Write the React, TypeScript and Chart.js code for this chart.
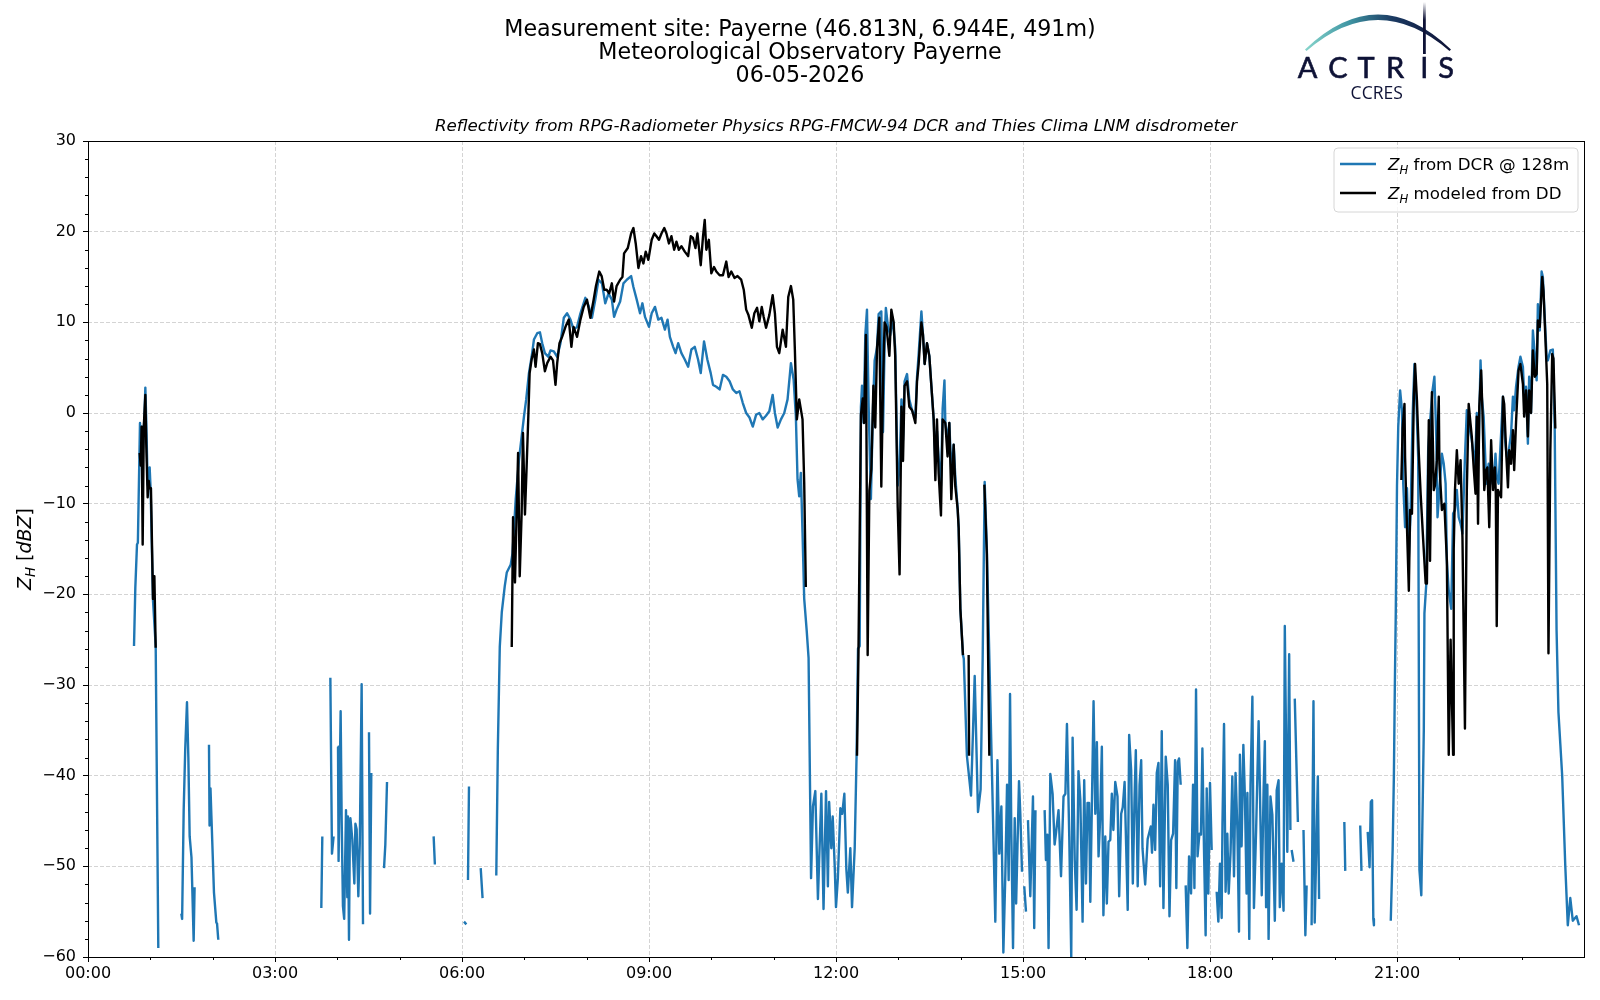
import React, { useEffect, useRef } from 'react';
import { Chart, registerables } from 'chart.js';

Chart.register(...registerables);

// ---------------- text ----------------
const titleLines = [
  'Measurement site: Payerne (46.813N, 6.944E, 491m)',
  'Meteorological Observatory Payerne',
  '06-05-2026',
];
const subtitleText =
  'Reflectivity from RPG-Radiometer Physics RPG-FMCW-94 DCR and Thies Clima LNM disdrometer';
const legendTexts = [' from DCR @ 128m', ' modeled from DD'];
const logoLetters = ['A', 'C', 'T', 'R', 'I', 'S'];
const logoSub = 'CCRES';

// ---------------- ticks ----------------
const xTickHours = [0, 3, 6, 9, 12, 15, 18, 21];
const xMinorHours = [1, 2, 4, 5, 7, 8, 10, 11, 13, 14, 16, 17, 19, 20, 22, 23];
const yTickValues = [-60, -50, -40, -30, -20, -10, 0, 10, 20, 30];
const yMinorValues = [-58, -56, -54, -52, -48, -46, -44, -42, -38, -36, -34, -32, -28, -26, -24, -22,
  -18, -16, -14, -12, -8, -6, -4, -2, 2, 4, 6, 8, 12, 14, 16, 18, 22, 24, 26, 28];

// ---------------- data: [hour of day, Z_H dBZ] (null = gap) ----------------
const dcrPoints: [number, number | null][] = [
  [0.738, -25.7], [0.759, -19.3], [0.786, -14.5], [0.8, -14.3], [0.834, -1.1], [0.85, -5.4], [0.865, -1.5],
  [0.88, -4.0], [0.905, -0.5], [0.92, 2.8], [0.935, -1.0], [0.957, -7.9], [0.975, -6.5], [0.989, -6.0],
  [1.005, -8.5], [1.043, -20.7], [1.086, -25.7], [1.128, -59.0], [1.3, null],
  [1.497, -55.2], [1.51, -55.8], [1.535, -43.8], [1.56, -37], [1.588, -31.9], [1.61, -38], [1.631, -46.7],
  [1.66, -49], [1.695, -58.2], [1.71, -52.3], [1.8, null],
  [1.941, -36.6], [1.95, -45.5], [1.965, -41.4], [1.98, -44.5], [2.021, -52.9], [2.059, -56.2], [2.07, -56.3],
  [2.09, -58.1], [2.2, null],
  [3.743, -54.6], [3.759, -46.7], [3.82, null],
  [3.888, -29.2], [3.914, -48.6], [3.94, -46.7], [3.97, null],
  [4.011, -36.8], [4.02, -49.4], [4.053, -32.9], [4.07, -45], [4.09, -54.4], [4.11, -55.8], [4.139, -43.8],
  [4.16, -53.4], [4.17, -44.5], [4.187, -58.1], [4.2, -47], [4.21, -44.7], [4.24, -47], [4.273, -51.9],
  [4.29, -45.3], [4.31, -45.9], [4.337, -53.3], [4.36, -47.6], [4.39, -29.9], [4.412, -56.4], [4.45, null],
  [4.508, -35.2], [4.525, -55.2], [4.545, -39.7], [4.6, null],
  [4.749, -50.2], [4.77, -47.6], [4.797, -40.7], [4.85, null],
  [5.545, -46.7], [5.565, -49.8], [5.7, null],
  [6.032, -56.1], [6.07, -56.4], [6.085, null],
  [6.096, -51.5], [6.112, -41.2], [6.2, null],
  [6.3, -50.2], [6.33, -53.5], [6.45, null],
  [6.55, -51.0], [6.575, -37], [6.606, -25.8], [6.638, -22], [6.686, -19.1], [6.718, -17.6], [6.782, -16.7],
  [6.81, -15.5], [6.862, -9.5], [6.915, -5.1], [6.995, -0.35], [7.03, 1.5], [7.074, 4.4], [7.117, 6.2],
  [7.154, 8.1], [7.207, 8.8], [7.25, 8.9], [7.287, 7.7], [7.33, 6.6], [7.383, 6.2], [7.42, 6.9], [7.473, 6.8],
  [7.527, 6.2], [7.58, 7.7], [7.633, 10.5], [7.686, 11], [7.74, 10.3], [7.79, 9.2], [7.846, 9.5], [7.9, 11],
  [7.979, 12.7], [8.032, 11.8], [8.085, 10.5], [8.138, 12.5], [8.19, 14.7], [8.245, 14.3], [8.298, 12.1],
  [8.35, 13.2], [8.404, 12.5], [8.44, 10.6], [8.48, 11.4], [8.537, 12.3], [8.59, 14.3], [8.644, 14.7],
  [8.713, 15.1], [8.75, 13.9], [8.803, 12.5], [8.856, 11], [8.894, 12.1], [8.936, 10.6], [9.0, 9.5],
  [9.043, 11], [9.096, 11.7], [9.149, 10.3], [9.2, 10.5], [9.255, 9.2], [9.298, 10.3], [9.335, 8.4],
  [9.388, 7.3], [9.426, 6.6], [9.468, 7.7], [9.52, 6.6], [9.574, 5.9], [9.628, 5.1], [9.68, 7], [9.734, 7.3],
  [9.787, 5.9], [9.83, 4.4], [9.883, 7.9], [9.936, 5.9], [9.99, 4.4], [10.027, 3.1], [10.08, 2.9],
  [10.133, 2.6], [10.186, 4.2], [10.24, 4.0], [10.293, 3.5], [10.346, 2.6], [10.4, 2.2], [10.452, 2.4],
  [10.505, 1.1], [10.559, 0.0], [10.612, -0.5], [10.665, -1.5], [10.718, -0.2], [10.77, 0.0], [10.824, -0.7],
  [10.877, -0.3], [10.93, 0.2], [10.984, 2.0], [11.02, 0], [11.064, -1.6], [11.117, -0.7], [11.17, 0],
  [11.223, 1.5], [11.277, 5.5], [11.32, 3.7], [11.356, -0.35], [11.383, -7.3], [11.41, -9.2], [11.436, -6.6],
  [11.463, -13.2], [11.49, -20.5], [11.53, -24], [11.56, -27], [11.6, -51.3],
  [11.63, -43.4], [11.668, -41.7], [11.71, -53.6], [11.765, -42], [11.8, -54.7], [11.84, -41.7], [11.87, -52.2],
  [11.89, -42.9], [11.925, -48], [11.947, -44.5], [11.979, -49.9], [12.0, -54.5], [12.03, -51.3], [12.07, -43.6],
  [12.1, -44.2], [12.134, -42], [12.166, -50.3], [12.19, -52.9], [12.23, -48], [12.257, -54.5], [12.3, -48],
  [12.33, -37.8], [12.353, -26], [12.38, -25.7], [12.4, 0.7], [12.417, 3], [12.444, -1.1], [12.47, 8.6],
  [12.497, 11.4], [12.524, 0.7], [12.56, -9.5], [12.594, 0.7], [12.62, 5.8], [12.658, 7.2], [12.684, 10.9],
  [12.727, 11.2], [12.754, -2.1], [12.78, 7.7], [12.8, 11.6], [12.834, 9.5], [12.87, 8.6], [12.91, 10.5],
  [12.95, 7.2], [12.99, -8], [13.02, -6], [13.05, 1.5], [13.075, -3], [13.1, 3.5], [13.14, 4.3], [13.176, 1.5],
  [13.22, 0.3], [13.273, -0.5], [13.3, 4], [13.326, 6.5], [13.37, 11.2], [13.396, 8.6], [13.422, 5.4],
  [13.46, 7.7], [13.497, 6.3], [13.53, 3], [13.567, -0.7], [13.594, -5.5], [13.62, -2], [13.647, -5],
  [13.684, -8], [13.711, 0.5], [13.74, 3.6], [13.754, -1.1], [13.79, -3], [13.818, -1.1], [13.85, -6.5],
  [13.888, -3.5], [13.914, -7], [13.952, -10.6], [13.968, -12.7], [13.995, -21.6], [14.037, -26.7],
  [14.05, -27.1], [14.1, -37.8], [14.166, -42.2], [14.225, -29], [14.278, -44], [14.32, -41.5], [14.353, -27.1],
  [14.385, -7.6], [14.42, -15], [14.476, -31.8], [14.52, -45], [14.556, -56.1], [14.59, -38.3], [14.62, -48.6],
  [14.653, -43.4], [14.685, -59.5], [14.717, -50.8], [14.744, -41], [14.77, -51.5], [14.792, -31],
  [14.813, -46.4], [14.84, -59], [14.867, -44.7], [14.89, -54.1], [14.936, -40.6], [14.957, -44.2],
  [14.984, -50.6], [15.0, null],
  [15.02, -52.2], [15.048, -55], [15.06, null],
  [15.08, -44.9], [15.117, -53.3], [15.16, -42.3], [15.18, -56.8], [15.2, -43.8], [15.25, null],
  [15.347, -43.8], [15.368, -49.3], [15.39, -46.5], [15.41, -59], [15.438, -39.8], [15.475, -42], [15.507, -47.6],
  [15.53, -46.3], [15.57, -43.8], [15.61, -51.1], [15.65, -42.3], [15.68, -42], [15.705, -34.3], [15.742, -46.7],
  [15.774, -60], [15.796, -35.8], [15.83, -49.3], [15.86, -54.8], [15.89, -39.5], [15.92, -42.7], [15.956, -56.1],
  [15.982, -40.5], [16.01, -51.9], [16.035, -43], [16.06, -43], [16.08, -53.9], [16.132, -31.8], [16.16, -44.2],
  [16.185, -36.3], [16.212, -48.9], [16.238, -44.7], [16.265, -36.8], [16.29, -55.4], [16.32, -46.7],
  [16.345, -54.1], [16.372, -47.3], [16.4, -47.1], [16.425, -42], [16.45, -46], [16.48, -40.7], [16.516, -42.3],
  [16.543, -53.3], [16.575, -44.2], [16.6, -43.5], [16.63, -40.7], [16.655, -47.8], [16.68, -54.8],
  [16.703, -35.5], [16.735, -39.4], [16.762, -51.9], [16.79, -42.3], [16.81, -37.2], [16.84, -52.2],
  [16.87, -41], [16.896, -38.3], [16.917, -48], [16.96, -52], [17.0, -47], [17.05, -45.6], [17.07, -48.5],
  [17.093, -43.2], [17.12, -48.2], [17.146, -39.7], [17.173, -38.6], [17.2, -52.2], [17.226, -35.1],
  [17.253, -54.6], [17.29, -37.9], [17.322, -41], [17.35, -55.5], [17.376, -47.1], [17.408, -46.4],
  [17.44, -38.3], [17.46, -52.4], [17.483, -38.5], [17.504, -38.1], [17.53, -41], [17.57, null],
  [17.61, -52.1], [17.637, -59], [17.664, -48.9], [17.696, -53], [17.728, -41], [17.75, -52.4], [17.776, -30.5],
  [17.8, -48.9], [17.83, -46.4], [17.855, -46.5], [17.878, -37], [17.904, -48.2], [17.93, -57.6], [17.947, -41.4],
  [17.973, -53], [18.0, -40.8], [18.027, -48.2], [18.06, null],
  [18.107, -52.8], [18.134, -56.1], [18.16, -49.7], [18.187, -55.7], [18.2, -45.3], [18.225, -34.3],
  [18.25, -52.8], [18.278, -46.4], [18.3, -53], [18.33, -48.4], [18.358, -40.1], [18.385, -51.1], [18.41, -39.7],
  [18.44, -46], [18.465, -57.2], [18.48, -37.7], [18.507, -47.8], [18.535, -36.6], [18.56, -42.3], [18.587, -53],
  [18.6, -41.9], [18.63, -58], [18.65, -41], [18.68, -31.3], [18.705, -54.6], [18.74, -46], [18.78, -34],
  [18.8, -41.2], [18.83, -53.2], [18.86, -41.6], [18.88, -36.2], [18.9, -54.5], [18.92, -41], [18.94, -58],
  [18.97, -42.3], [19.0, -44.3], [19.02, -49.9], [19.04, -56], [19.07, -41.6], [19.1, -40.5], [19.12, -54.5],
  [19.15, -49.7], [19.18, -54.9], [19.2, -23.5], [19.24, -48.4], [19.27, -26.6], [19.29, -46], [19.3, null],
  [19.31, -48.2], [19.34, -49.5], [19.35, null],
  [19.36, -31.5], [19.41, -45.1], [19.45, null],
  [19.5, -46], [19.53, -57.6], [19.55, -52.1], [19.6, null],
  [19.63, -56.5], [19.66, -31.8], [19.68, -56.2], [19.73, -40.1], [19.75, -53.6], [19.8, null],
  [20.155, -45.1], [20.17, -50.5], [20.2, null],
  [20.41, -45.5], [20.43, -50.5], [20.48, null],
  [20.53, -46.2], [20.56, -50.1], [20.58, -42.9], [20.6, -42.7], [20.62, -55.8], [20.63, -56.5], [20.7, null],
  [20.9, -56], [20.93, -48.2], [20.95, -40], [20.965, -30.3], [20.98, -22.2], [21.0, -8], [21.02, -1.5],
  [21.05, 2.5], [21.08, 0.3], [21.1, -7.8], [21.13, -12.6], [21.16, -8.3], [21.19, -15.9], [21.22, -10.7],
  [21.25, -0.4], [21.28, 5.4], [21.31, 1.4], [21.34, -4.9], [21.36, -50.4], [21.39, -53.2], [21.43, -35],
  [21.44, -22.1], [21.47, -18.8], [21.5, -4.1], [21.53, -1], [21.57, 2.5], [21.6, 4], [21.63, -2.6],
  [21.65, -11.5], [21.68, -8.5], [21.72, -4.5], [21.75, -5.6], [21.78, -7.8], [21.8, -16.3], [21.83, -19.6],
  [21.87, -21.6], [21.9, -11.1], [21.93, -10.7], [21.96, -8.5], [21.99, -11.5], [22.02, -12.2], [22.05, -13.3],
  [22.09, -4.9], [22.12, 0.3], [22.16, -1.5], [22.2, -3], [22.25, -6], [22.28, 0], [22.31, -4.1], [22.34, 5.8],
  [22.36, 1.8], [22.39, -0.4], [22.42, -5.6], [22.44, -7.8], [22.47, -5.6], [22.5, -7.8], [22.52, -5.6],
  [22.55, -7.8], [22.58, -4.5], [22.6, -7.1], [22.63, -7.8], [22.67, -2.3], [22.7, 1.8], [22.72, -1.9],
  [22.75, -4.1], [22.78, -5.6], [22.8, -3.8], [22.83, -2.3], [22.86, 1.8], [22.88, 0.3], [22.91, 2.9],
  [22.95, 5.1], [22.98, 6.2], [23.02, 5.1], [23.05, 0.3], [23.07, 2.9], [23.1, -3.4], [23.12, 4], [23.15, 0],
  [23.18, 9.1], [23.21, 6.5], [23.24, 3.6], [23.26, 12], [23.29, 9.1], [23.32, 15.6], [23.34, 15],
  [23.37, 10.6], [23.4, 6.2], [23.42, 5.8], [23.46, 6.9], [23.5, 7.0], [23.53, -1.7], [23.56, -24],
  [23.59, -33], [23.62, -36.5], [23.65, -40], [23.7, -50], [23.74, -56.5], [23.78, -53.5], [23.82, -56],
  [23.88, -55.5], [23.92, -56.5],
];

const ddPoints: [number, number | null][] = [
  [0.829, -4.4], [0.845, -5.8], [0.86, -1.5], [0.877, -14.5], [0.895, -1.5], [0.92, 2.0], [0.935, -3.5],
  [0.957, -9.3], [0.975, -7.5], [0.989, -8.3], [1.01, -8.3], [1.043, -20.5], [1.065, -18], [1.086, -25.9],
  [1.2, null],
  [6.798, -25.8], [6.819, -11.5], [6.85, -18.7], [6.9, -4.4], [6.926, -18], [6.957, -11], [6.978, -2.2],
  [7.01, -11.2], [7.037, -5.9], [7.064, -0.35], [7.085, 4.4], [7.117, 5.9], [7.154, 7], [7.18, 5.1],
  [7.218, 7.7], [7.25, 7.6], [7.287, 6.6], [7.33, 4.6], [7.367, 5.5], [7.42, 6.2], [7.46, 5.8], [7.5, 3.1],
  [7.527, 5.5], [7.564, 7.7], [7.606, 8.4], [7.66, 9.5], [7.713, 10.3], [7.755, 7.3], [7.79, 9.5],
  [7.846, 8.4], [7.9, 10.3], [7.952, 11.7], [8.005, 12.5], [8.059, 10.5], [8.112, 12.5], [8.149, 14],
  [8.202, 15.6], [8.24, 15.1], [8.282, 13.6], [8.32, 13.6], [8.362, 13.2], [8.404, 14.3], [8.44, 12.3],
  [8.48, 14], [8.537, 14.7], [8.574, 15], [8.6, 17.6], [8.66, 18.2], [8.713, 19.8], [8.75, 20.4],
  [8.787, 18.7], [8.83, 16], [8.872, 17.3], [8.91, 16.5], [8.947, 17.8], [8.99, 16.9], [9.043, 19.1],
  [9.085, 19.8], [9.12, 19.5], [9.16, 19.1], [9.2, 19.8], [9.245, 20.4], [9.28, 19.8], [9.32, 18.7],
  [9.36, 19.5], [9.404, 18], [9.44, 18.9], [9.479, 18], [9.52, 18.4], [9.574, 17.8], [9.628, 17.3],
  [9.67, 19.5], [9.705, 19.3], [9.745, 18.2], [9.777, 19.8], [9.83, 16.3], [9.867, 19.5], [9.894, 21.3],
  [9.92, 18], [9.96, 19.1], [10.0, 15.4], [10.043, 16.1], [10.08, 15.6], [10.133, 15.2], [10.186, 15.2],
  [10.24, 16.7], [10.277, 15], [10.32, 15.6], [10.372, 14.9], [10.42, 15.1], [10.479, 14.7], [10.52, 13.6],
  [10.559, 11.4], [10.596, 10.8], [10.649, 9.4], [10.69, 11], [10.734, 11.6], [10.77, 10.1], [10.809, 11.7],
  [10.84, 10.6], [10.878, 9.4], [10.93, 10.8], [10.984, 13], [11.02, 11], [11.053, 7.3], [11.09, 6.6],
  [11.144, 9.2], [11.197, 7.3], [11.234, 12.8], [11.277, 14], [11.314, 12.5], [11.34, 7], [11.372, -0.7],
  [11.41, 1.5], [11.463, -0.7], [11.49, -7.7], [11.516, -19.2], [11.7, null],
  [12.337, -37.8], [12.36, -26.7], [12.4, -0.2], [12.43, 1.6], [12.45, -1.1], [12.48, 8.6], [12.508, -26.7],
  [12.535, -8.6], [12.567, -6.2], [12.6, 3.0], [12.63, -1.6], [12.658, 7.2], [12.695, 10.5], [12.727, -8.1],
  [12.754, 3], [12.78, 10], [12.81, 9.5], [12.856, 6.3], [12.888, 11.4], [12.925, 10], [12.95, 6.3],
  [12.99, -10.4], [13.02, -17.8], [13.05, 0.7], [13.075, -5.3], [13.1, 3], [13.14, 3.5], [13.176, 0.7],
  [13.22, 0.3], [13.273, -1.1], [13.3, 3.5], [13.326, 5.4], [13.37, 10], [13.396, 8.6], [13.422, 5.4],
  [13.46, 7.7], [13.497, 6.3], [13.53, 3], [13.567, -0.7], [13.594, -7.4], [13.62, -0.7], [13.647, -6.7],
  [13.684, -11.3], [13.711, -0.7], [13.754, -1.1], [13.79, -4.8], [13.818, -1.1], [13.85, -9.5],
  [13.888, -3.5], [13.914, -8.1], [13.952, -10.6], [13.968, -12.7], [13.995, -21.6], [14.037, -26.7],
  [14.08, null],
  [14.128, -26.7], [14.135, -37.8], [14.2, null],
  [14.38, -7.9], [14.42, -15.5], [14.46, -37.8], [14.6, null],
  [21.07, -7.4], [21.09, -1.7], [21.12, 1], [21.13, -4.9], [21.16, -12.6], [21.19, -19.6], [21.21, -10.7],
  [21.24, -11.1], [21.27, 1.8], [21.29, 5.4], [21.32, 1.4], [21.35, -4.5], [21.38, -9], [21.42, -14],
  [21.46, -18.8], [21.48, -18.8], [21.51, -0.8], [21.53, -16.3], [21.56, 2.3], [21.59, -8.5], [21.61, -8],
  [21.64, -5.2], [21.67, 1.8], [21.68, -5.6], [21.72, -10.7], [21.76, -10], [21.8, -16.3], [21.83, -37.7],
  [21.86, -25], [21.9, -37.7], [21.91, -15], [21.93, -8.5], [21.96, -4.1], [21.99, -7.8], [22.02, -5.2],
  [22.05, -13.7], [22.09, -34.8], [22.12, -8.5], [22.15, 1], [22.18, -1.2], [22.2, -2.6], [22.23, -6],
  [22.26, -8.9], [22.28, -0.4], [22.3, -12.2], [22.32, 0.7], [22.35, 4.7], [22.37, 0.3], [22.4, -8.5],
  [22.43, -6.3], [22.45, -6], [22.48, -12.6], [22.51, -3], [22.54, -8.5], [22.57, -6], [22.585, -8.9],
  [22.6, -23.5], [22.62, -8.5], [22.67, -9.3], [22.7, 1.8], [22.72, 1], [22.75, -4.1], [22.78, -8.2],
  [22.8, -4.1], [22.83, -5.6], [22.86, -1.9], [22.88, -6.3], [22.91, -1], [22.95, 4.7], [22.98, 5.4],
  [23.02, 3.2], [23.04, -0.4], [23.07, 2.5], [23.1, -2.6], [23.12, 2.5], [23.15, 0], [23.18, 6.9],
  [23.21, 4], [23.24, 4.3], [23.26, 10.2], [23.29, 9.5], [23.33, 15], [23.35, 13.5], [23.38, 8.4],
  [23.41, 3.2], [23.43, -26.5], [23.46, -4.1], [23.49, 6.5], [23.51, 6], [23.54, -1.7],
];

// ---------------- styling ----------------
const BLUE = '#1f77b4';
const BLACK = '#000000';
const FONT = '"DejaVu Sans", "Liberation Sans", sans-serif';
const NAVY = '#0e1236';
const LINE_W = 2.4;

function fmtHour(v: number) {
  return `${String(v).padStart(2, '0')}:00`;
}
function fmtZ(v: number) {
  return v < 0 ? `\u2212${-v}` : `${v}`;
}

function drawRich(
  ctx: CanvasRenderingContext2D,
  parts: { t: string; font: string; dy: number }[],
  x: number,
  y: number,
  align: 'left' | 'center'
) {
  let total = 0;
  const widths = parts.map((p) => {
    ctx.font = p.font;
    const w = ctx.measureText(p.t).width;
    total += w;
    return w;
  });
  let cx = align === 'center' ? x - total / 2 : x;
  ctx.textAlign = 'left';
  ctx.textBaseline = 'alphabetic';
  parts.forEach((p, i) => {
    ctx.font = p.font;
    ctx.fillText(p.t, cx, y + p.dy);
    cx += widths[i];
  });
}

const decorPlugin = {
  id: 'decor',
  afterDatasetsDraw(chart: any) {
    const { ctx, chartArea: a } = chart;
    const xs = chart.scales.x;
    const ys = chart.scales.y;
    ctx.save();
    ctx.strokeStyle = '#000';
    ctx.lineWidth = 1;
    ctx.strokeRect(a.left + 0.5, a.top + 0.5, a.right - a.left, a.bottom - a.top);
    ctx.beginPath();
    for (const h of xMinorHours) {
      const px = Math.round(xs.getPixelForValue(h)) + 0.5;
      ctx.moveTo(px, a.bottom);
      ctx.lineTo(px, a.bottom + 3);
    }
    for (const v of yMinorValues) {
      const py = Math.round(ys.getPixelForValue(v)) + 0.5;
      ctx.moveTo(a.left - 3, py);
      ctx.lineTo(a.left, py);
    }
    ctx.stroke();
    ctx.restore();
  },
  afterDraw(chart: any) {
    const { ctx, chartArea: a } = chart;
    ctx.save();
    ctx.fillStyle = '#000';

    // main title
    ctx.textAlign = 'center';
    ctx.textBaseline = 'alphabetic';
    ctx.font = `22.2px ${FONT}`;
    const baselines = [36, 59.3, 81.7];
    titleLines.forEach((t, i) => ctx.fillText(t, 800, baselines[i]));

    // subtitle
    ctx.font = `italic 16.7px ${FONT}`;
    ctx.fillText(subtitleText, (a.left + a.right) / 2, 131);

    // y axis label
    ctx.save();
    ctx.translate(31, (a.top + a.bottom) / 2);
    ctx.rotate(-Math.PI / 2);
    drawRich(
      ctx,
      [
        { t: 'Z', font: `italic 19px ${FONT}`, dy: 0 },
        { t: 'H', font: `italic 13.3px ${FONT}`, dy: 4 },
        { t: ' [', font: `19px ${FONT}`, dy: 0 },
        { t: 'dBZ', font: `italic 19px ${FONT}`, dy: 0 },
        { t: ']', font: `19px ${FONT}`, dy: 0 },
      ],
      0,
      0,
      'center'
    );
    ctx.restore();

    // legend
    const lx = 1334, ly = 148, lw = 244, lh = 64, r = 4;
    ctx.beginPath();
    ctx.moveTo(lx + r, ly);
    ctx.arcTo(lx + lw, ly, lx + lw, ly + lh, r);
    ctx.arcTo(lx + lw, ly + lh, lx, ly + lh, r);
    ctx.arcTo(lx, ly + lh, lx, ly, r);
    ctx.arcTo(lx, ly, lx + lw, ly, r);
    ctx.closePath();
    ctx.fillStyle = 'rgba(255,255,255,0.8)';
    ctx.fill();
    ctx.strokeStyle = '#d6d6d6';
    ctx.lineWidth = 1;
    ctx.stroke();
    const rows = [
      { color: BLUE, y: 164, text: legendTexts[0] },
      { color: BLACK, y: 193, text: legendTexts[1] },
    ];
    rows.forEach((row) => {
      ctx.strokeStyle = row.color;
      ctx.lineWidth = LINE_W;
      ctx.beginPath();
      ctx.moveTo(1340, row.y);
      ctx.lineTo(1376, row.y);
      ctx.stroke();
      ctx.fillStyle = '#000';
      drawRich(
        ctx,
        [
          { t: 'Z', font: `italic 16.7px ${FONT}`, dy: 0 },
          { t: 'H', font: `italic 11.7px ${FONT}`, dy: 3.5 },
          { t: row.text, font: `16.7px ${FONT}`, dy: 0 },
        ],
        1388,
        row.y + 6,
        'left'
      );
    });

    // logo
    const grad = ctx.createLinearGradient(1306, 0, 1450, 0);
    grad.addColorStop(0, '#86d4cb');
    grad.addColorStop(0.3, '#3f95a3');
    grad.addColorStop(0.6, '#1b3a62');
    grad.addColorStop(1, NAVY);
    ctx.fillStyle = grad;
    ctx.beginPath();
    ctx.moveTo(1305, 49.5);
    ctx.quadraticCurveTo(1378, -20.5, 1451, 49.5);
    ctx.lineTo(1449.5, 51);
    ctx.quadraticCurveTo(1378, -11, 1306.5, 51);
    ctx.closePath();
    ctx.fill();

    const vg = ctx.createLinearGradient(0, 2, 0, 20);
    vg.addColorStop(0, 'rgba(14,18,54,0)');
    vg.addColorStop(1, NAVY);
    ctx.fillStyle = vg;
    ctx.fillRect(1423, 2, 2.8, 52);

    ctx.fillStyle = NAVY;
    ctx.strokeStyle = NAVY;
    ctx.lineWidth = 0.6;
    ctx.textAlign = 'center';
    ctx.textBaseline = 'alphabetic';
    ctx.font = `29px Lato, "Open Sans", sans-serif`;
    const letterCenters = [1307.5, 1338, 1366, 1395, 1424.3, 1446];
    logoLetters.forEach((L, i) => {
      ctx.fillText(L, letterCenters[i], 77.5);
      ctx.strokeText(L, letterCenters[i], 77.5);
    });
    ctx.font = `17.5px "Open Sans", Lato, sans-serif`;
    ctx.fillText(logoSub, 1376.7, 98.7);

    ctx.restore();
  },
};

export default function App() {
  const ref = useRef<HTMLCanvasElement | null>(null);

  useEffect(() => {
    document.body.style.margin = '0';
    const canvas = ref.current;
    if (!canvas) return;
    const chart = new Chart(canvas, {
      type: 'line',
      data: {
        datasets: [
          {
            label: 'Z_H from DCR @ 128m',
            data: dcrPoints.map(([x, y]) => ({ x, y })),
            borderColor: BLUE,
            backgroundColor: BLUE,
            borderWidth: LINE_W,
            pointRadius: 0,
            tension: 0,
            spanGaps: false,
            borderJoinStyle: 'round',
            order: 2,
          },
          {
            label: 'Z_H modeled from DD',
            data: ddPoints.map(([x, y]) => ({ x, y })),
            borderColor: BLACK,
            backgroundColor: BLACK,
            borderWidth: LINE_W,
            pointRadius: 0,
            tension: 0,
            spanGaps: false,
            borderJoinStyle: 'round',
            order: 1,
          },
        ],
      },
      options: {
        animation: false,
        responsive: false,
        maintainAspectRatio: false,
        events: [],
        layout: { padding: { top: 141, left: 0, right: 16, bottom: 0 } },
        plugins: {
          legend: { display: false },
          tooltip: { enabled: false },
          title: { display: false },
        },
        scales: {
          x: {
            type: 'linear',
            min: 0,
            max: 24,
            afterBuildTicks: (s: any) => {
              s.ticks = xTickHours.map((v) => ({ value: v }));
            },
            afterFit: (s: any) => {
              s.height = 43;
            },
            ticks: {
              callback: (v: any) => fmtHour(Number(v)),
              font: { family: FONT, size: 16 },
              color: '#000',
              padding: 2,
              maxRotation: 0,
              autoSkip: false,
            },
            grid: {
              color: '#d4d4d4',
              lineWidth: 1,
              drawTicks: true,
              tickLength: 5,
              tickColor: '#000',
              tickWidth: 1,
            },
            border: { display: false, dash: [4, 2] },
          },
          y: {
            type: 'linear',
            min: -60,
            max: 30,
            afterBuildTicks: (s: any) => {
              s.ticks = yTickValues.map((v) => ({ value: v }));
            },
            afterFit: (s: any) => {
              s.width = 88;
            },
            ticks: {
              callback: (v: any) => fmtZ(Number(v)),
              font: { family: FONT, size: 16 },
              color: '#000',
              padding: 7,
            },
            grid: {
              color: '#d4d4d4',
              lineWidth: 1,
              drawTicks: true,
              tickLength: 5,
              tickColor: '#000',
              tickWidth: 1,
            },
            border: { display: false, dash: [4, 2] },
          },
        },
      },
      plugins: [decorPlugin],
    } as any);
    return () => chart.destroy();
  }, []);

  return (
    <div style={{ width: 1600, height: 1000, background: '#fff', position: 'relative' }}>
      <canvas ref={ref} width={1600} height={1000} style={{ display: 'block', width: 1600, height: 1000 }} />
    </div>
  );
}
